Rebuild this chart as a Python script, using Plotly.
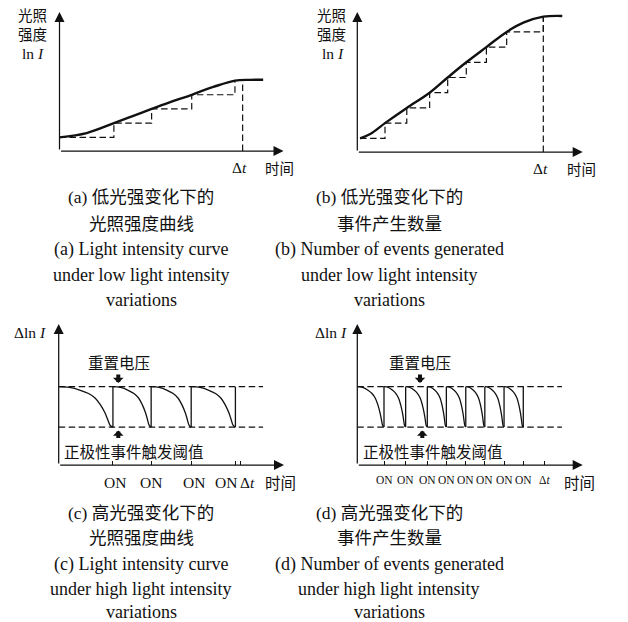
import plotly.graph_objects as go

W, H = 628, 622

# ---------------- data ----------------
# (a) low light-intensity change: ln I vs time (time unit = Δt, ln I unit = contrast threshold)
curve_a_t = [0.0, 0.148, 0.297, 0.403, 0.503, 0.612, 0.722, 0.840, 0.958, 1.040, 1.112]
curve_a_lnI = [1.0, 1.30, 2.0, 2.52, 3.0, 3.52, 4.0, 4.55, 5.0, 5.05, 5.06]
events_a_t = [0.0, 0.297, 0.503, 0.722, 0.958]
events_a_level = [1, 2, 3, 4, 5]
dt_a_lnI = 5.04

# (b) low light-intensity change: number of generated events
curve_b_t = [0.015, 0.072, 0.149, 0.266, 0.389, 0.486, 0.586, 0.694, 0.803, 0.896, 1.0, 1.102]
curve_b_lnI = [1.0, 1.3, 2.0, 3.0, 4.0, 5.0, 6.0, 7.0, 8.0, 8.62, 9.0, 9.05]
events_b_t = [0.015, 0.149, 0.266, 0.389, 0.486, 0.586, 0.694, 0.803, 1.0]
events_b_level = [1, 2, 3, 4, 5, 6, 7, 8, 9]
dt_b_lnI = 9.0

# (c)/(d) high light-intensity change: Δln I between reset level and ON threshold
reset_level = 1.0
threshold_level = 0.0
on_c = [0.298, 0.508, 0.728, 0.971]
on_d = [0.143, 0.259, 0.375, 0.477, 0.581, 0.683, 0.786, 0.889]
dt_tick = 1.0
dashed_end_c = 1.123
dashed_end_d = 1.096
# shape of one decay from reset level down to threshold (fraction of interval, relative level)
decay_frac = [0.0, 0.2, 0.4, 0.55, 0.67, 0.77, 0.85, 0.9, 0.95, 1.0]
decay_level = [1.0, 0.98, 0.91, 0.83, 0.72, 0.55, 0.36, 0.2, 0.04, 0.0]

caption_a = ["(a) 低光强变化下的", "光照强度曲线", "(a) Light intensity curve",
             "under low light intensity", "variations"]
caption_b = ["(b) 低光强变化下的", "事件产生数量", "(b) Number of events generated",
             "under low light intensity", "variations"]
caption_c = ["(c) 高光强变化下的", "光照强度曲线", "(c) Light intensity curve",
             "under high light intensity", "variations"]
caption_d = ["(d) 高光强变化下的", "事件产生数量", "(d) Number of events generated",
             "under high light intensity", "variations"]

# ---------------- layout helpers ----------------
SERIF = "Liberation Serif, Noto Sans CJK SC, serif"
CJK = "Noto Sans CJK SC, Liberation Serif, sans-serif"
INK = "#111111"

# panel geometry: origin pixel (ox, oy), arrow tip pixel (tx, ty), data ranges
panels = {
    "a": dict(ox=59.5, oy=151, tx=285.5, ty=10, xr=[0, 1.234], yr=[0.04, 9.97]),
    "b": dict(ox=357.3, oy=152, tx=584.7, ty=10, xr=[0, 1.2226], yr=[0.1, 9.44]),
    "c": dict(ox=58.7, oy=465, tx=286, ty=322, xr=[0, 1.249], yr=[-0.938, 2.6]),
    "d": dict(ox=357.3, oy=465, tx=584.7, ty=322, xr=[0, 1.218], yr=[-0.938, 2.6]),
}
axis_ids = {"a": ("x", "y"), "b": ("x2", "y2"), "c": ("x3", "y3"), "d": ("x4", "y4")}

fig = go.Figure()
annotations = []


def px(x):
    return x / W


def py(y):
    return 1 - y / H


def text(t, x, y, size, family=SERIF, **kw):
    annotations.append(dict(text=t, x=px(x), y=py(y), xref="paper", yref="paper",
                            showarrow=False, xanchor="center", yanchor="middle",
                            font=dict(family=family, size=size, color=INK), **kw))


def add_line(panel, xs, ys, width=1.2, dash=None, shape="linear"):
    xa, ya = axis_ids[panel]
    fig.add_trace(go.Scatter(x=xs, y=ys, mode="lines", xaxis=xa, yaxis=ya,
                             line=dict(color=INK, width=width, dash=dash, shape=shape),
                             hoverinfo="skip", showlegend=False))


layout_axes = {}
for k, p in panels.items():
    xa, ya = axis_ids[k]
    xname = "xaxis" + xa[1:]
    yname = "yaxis" + ya[1:]
    layout_axes[xname] = dict(domain=[px(p["ox"]), px(p["tx"])], range=p["xr"], anchor=ya,
                              showgrid=False, zeroline=False, showline=False,
                              showticklabels=False, ticks="", fixedrange=True)
    layout_axes[yname] = dict(domain=[py(p["oy"]), py(p["ty"])], range=p["yr"], anchor=xa,
                              showgrid=False, zeroline=False, showline=False,
                              showticklabels=False, ticks="", fixedrange=True)
    # axis arrows
    for (x0, y0, x1, y1) in [(p["xr"][0], p["yr"][0], p["xr"][1], p["yr"][0]),
                             (p["xr"][0], p["yr"][0], p["xr"][0], p["yr"][1])]:
        annotations.append(dict(x=x1, y=y1, ax=x0, ay=y0, xref=xa, yref=ya,
                                axref=xa, ayref=ya, text="", showarrow=True,
                                arrowhead=2, arrowsize=1.6, arrowwidth=1.25,
                                arrowcolor=INK, standoff=2))

# event ticks on time axes of (c) and (d)
layout_axes["xaxis3"].update(ticks="inside", ticklen=4, tickwidth=1, tickcolor=INK,
                             tickvals=on_c + [dt_tick])
layout_axes["xaxis4"].update(ticks="inside", ticklen=4, tickwidth=1, tickcolor=INK,
                             tickvals=on_d + [dt_tick])

DASH = "6.5px,3.5px"

# ---- (a) ----
add_line("a", events_a_t, events_a_level, width=1.2, dash=DASH, shape="hv")
add_line("a", [dt_tick, dt_tick], [panels["a"]["yr"][0], dt_a_lnI], width=1.2, dash=DASH)
add_line("a", curve_a_t, curve_a_lnI, width=2.4, shape="spline")

# ---- (b) ----
add_line("b", events_b_t, events_b_level, width=1.2, dash=DASH, shape="hv")
add_line("b", [dt_tick, dt_tick], [panels["b"]["yr"][0], dt_b_lnI], width=1.2, dash=DASH)
add_line("b", curve_b_t, curve_b_lnI, width=2.4, shape="spline")


# ---- (c) / (d) ----
def decay_panel(panel, ons, dashed_end):
    add_line(panel, [0, dashed_end], [reset_level, reset_level], width=1.2, dash=DASH)
    add_line(panel, [0, dashed_end], [threshold_level, threshold_level], width=1.2, dash=DASH)
    starts = [0.0] + ons[:-1]
    cx, cy, vx, vy = [], [], [], []
    for s, e in zip(starts, ons):
        for f, lv in zip(decay_frac, decay_level):
            cx.append(s + f * (e - s))
            cy.append(threshold_level + lv * (reset_level - threshold_level))
        cx.append(None)
        cy.append(None)
        vx += [e, e, None]
        vy += [threshold_level, reset_level, None]
    add_line(panel, cx, cy, width=1.3, shape="spline")
    add_line(panel, vx, vy, width=1.3)


decay_panel("c", on_c, dashed_end_c)
decay_panel("d", on_d, dashed_end_d)

# ---------------- texts ----------------
for cx_ in (32, 331.5):
    text("光照", cx_, 14.5, 14.5, CJK)
    text("强度", cx_, 33, 14.5, CJK)
    text("ln <i>I</i>", cx_ + 1, 53, 15.5)
text("Δ<i>t</i>", 239, 167.5, 15.5)
text("时间", 279, 167, 14.5, CJK)
text("Δ<i>t</i>", 540, 168.5, 15.5)
text("时间", 581.5, 168.5, 14.5, CJK)

text("Δln <i>I</i>", 30, 332, 15.5)
text("Δln <i>I</i>", 331, 332, 15.5)

text("重置电压", 119, 362, 15.5, CJK)
text("正极性事件触发阈值", 133.5, 450.5, 15.5, CJK)
text("重置电压", 420, 362, 15.5, CJK)
text("正极性事件触发阈值", 433, 450.5, 15.5, CJK)

# block arrows pointing at the reset level and the threshold level
for x_ in (118.3, 420):
    annotations.append(dict(x=px(x_), y=py(383), xref="paper", yref="paper", text="",
                            showarrow=True, ax=0, ay=-10, arrowhead=1, arrowsize=0.44,
                            arrowwidth=4, arrowcolor=INK))
for x_ in (118.3, 422.3):
    annotations.append(dict(x=px(x_), y=py(430.5), xref="paper", yref="paper", text="",
                            showarrow=True, ax=0, ay=9, arrowhead=1, arrowsize=0.44,
                            arrowwidth=4, arrowcolor=INK))

# time-axis labels (c)
labels_c = ["ON", "ON", "ON", "ON", "Δ<i>t</i>"]
shifts_c = [2, 0, 3, -9, 7]
for v, lab, sh in zip(on_c + [dt_tick], labels_c, shifts_c):
    annotations.append(dict(text=lab, x=v, y=py(482), xref="x3", yref="paper",
                            showarrow=False, xanchor="center", yanchor="middle", xshift=sh,
                            font=dict(family=SERIF, size=15.5, color=INK)))
text("时间", 280, 481.5, 15.5, CJK)

# time-axis labels (d)
labels_d = ["ON"] * len(on_d) + ["Δ<i>t</i>"]
for v, lab in zip(on_d + [dt_tick], labels_d):
    annotations.append(dict(text=lab, x=v, y=py(480), xref="x4", yref="paper",
                            showarrow=False, xanchor="center", yanchor="middle",
                            font=dict(family=SERIF, size=11.5, color=INK)))
text("时间", 579, 481.5, 15.5, CJK)

# captions
top_rows = [196.5, 223.5, 249.5, 275, 300]
bot_rows = [513, 538, 564, 589, 612]
for lines, cx_, rows in [(caption_a, 141, top_rows), (caption_b, 389, top_rows),
                         (caption_c, 141, bot_rows), (caption_d, 389, bot_rows)]:
    for i, (ln, y_) in enumerate(zip(lines, rows)):
        size = 17.5 if i < 2 else 18
        text(ln, cx_, y_, size, SERIF)

fig.update_layout(width=W, height=H, margin=dict(l=0, r=0, t=0, b=0),
                  paper_bgcolor="white", plot_bgcolor="rgba(0,0,0,0)",
                  showlegend=False, annotations=annotations, **layout_axes)

fig.write_html("out.html", config={"displayModeBar": False},
               post_script="document.body.style.margin='0';document.body.style.overflow='hidden';")
